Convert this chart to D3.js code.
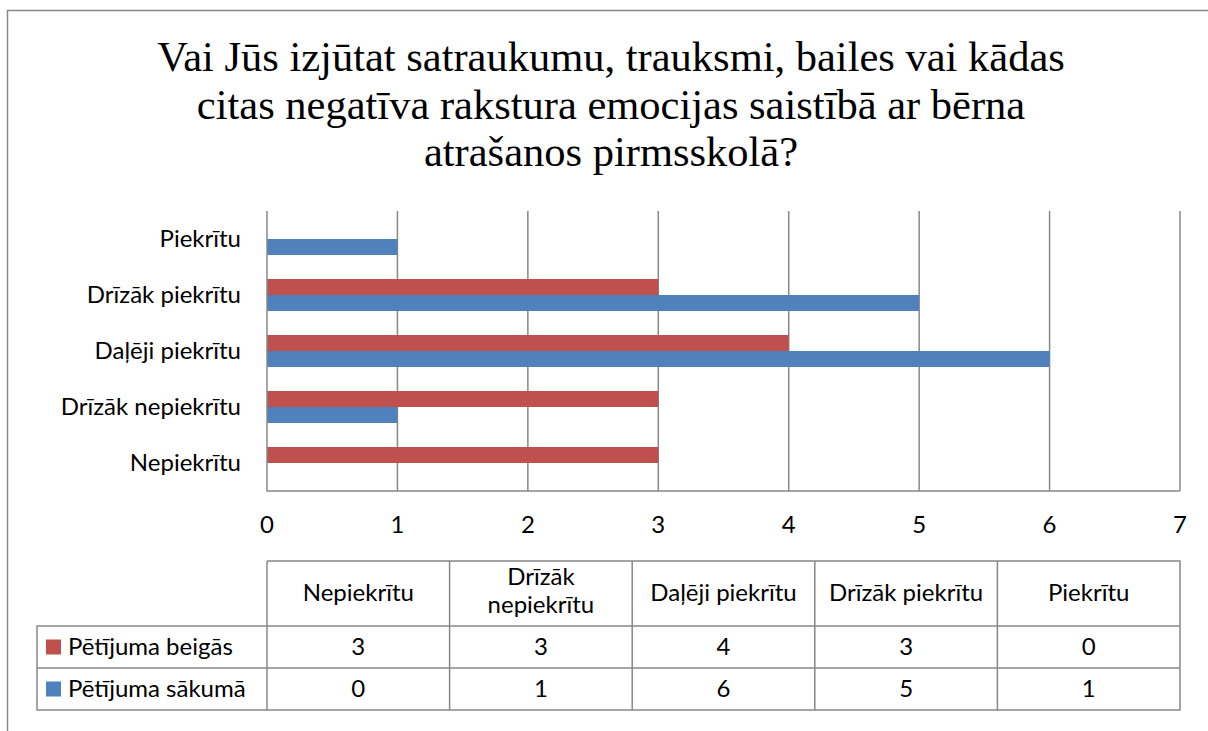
<!DOCTYPE html>
<html>
<head>
  <meta charset="utf-8">
  <title>Emocijas saistībā ar bērna atrašanos pirmsskolā</title>
  <script src="https://d3js.org/d3.v7.min.js"></script>
  <style>
    body { margin: 0; background: #fff; }
    svg { display: block; }
    .title { font-family: "Liberation Serif", "Times New Roman", serif; font-size: 42.5px; fill: #000; }
    .lbl { font-family: Lato, "Open Sans", sans-serif; font-size: 24px; fill: #000; }
  </style>
</head>
<body>
  <svg width="1208" height="731"></svg>

  <script>
    // data, bottom-to-top as in the table
    const categories = ["Nepiekrītu", "Drīzāk nepiekrītu", "Daļēji piekrītu", "Drīzāk piekrītu", "Piekrītu"];
    const seriesNames = ["Pētījuma beigās", "Pētījuma sākumā"];
    const seriesColors = ["#C0504D", "#4F81BD"];
    const beigas = [3, 3, 4, 3, 0];
    const sakuma = [0, 1, 6, 5, 1];
    const xTicks = [0, 1, 2, 3, 4, 5, 6, 7];
    const titleLines = [
      "Vai Jūs izjūtat satraukumu, trauksmi, bailes vai kādas",
      "citas negatīva rakstura emocijas saistībā ar bērna",
      "atrašanos pirmsskolā?"
    ];
    const values = [beigas, sakuma];

    const svg = d3.select("svg");
    const grid = "#888888";

    // outer chart border (cropped at right/bottom)
    svg.append("path").attr("d", "M7.5,731 V10.5 H1208")
      .attr("fill", "none").attr("stroke", grid).attr("stroke-width", 1.5);

    svg.selectAll(".title").data(titleLines).enter().append("text")
      .attr("class", "title").attr("text-anchor", "middle")
      .attr("x", 611).attr("y", (d, i) => 71 + i * 47.5).text(d => d);

    const x = d3.scaleLinear().domain([0, 7]).range([267, 1180]);
    const y = d3.scaleBand().domain(categories.slice().reverse()).range([211, 491]);
    const sub = d3.scaleBand().domain(seriesNames).range([0, y.bandwidth()]).paddingOuter(0.75);

    // gridlines
    svg.selectAll(".grid").data(xTicks.slice(1)).enter().append("line")
      .attr("x1", d => x(d)).attr("x2", d => x(d))
      .attr("y1", 211).attr("y2", 491)
      .attr("stroke", grid).attr("stroke-width", 1.5);

    // bars
    seriesNames.forEach((s, si) => {
      svg.selectAll(".bar" + si).data(categories).enter().append("rect")
        .attr("x", x(0))
        .attr("y", d => y(d) + sub(s))
        .attr("width", (d, i) => x(values[si][i]) - x(0))
        .attr("height", sub.bandwidth())
        .attr("fill", seriesColors[si]);
    });

    // axes lines
    svg.append("path").attr("d", `M${x(0)},211 V491 H${x(7)}`)
      .attr("fill", "none").attr("stroke", grid).attr("stroke-width", 1.5);

    // category labels
    svg.selectAll(".cat").data(categories).enter().append("text")
      .attr("class", "lbl").attr("text-anchor", "end")
      .attr("x", 241).attr("y", d => y(d) + y.bandwidth() / 2 + 7.5).text(d => d);

    // tick labels
    svg.selectAll(".tick").data(xTicks).enter().append("text")
      .attr("class", "lbl").attr("text-anchor", "middle")
      .attr("x", d => x(d)).attr("y", 533).text(d => d);

    // data table
    const colW = (x(7) - x(0)) / categories.length;
    const tTop = 561, tHead = 626, tRow = 42, tBottom = tHead + 2 * tRow, legX = 37;
    const tg = svg.append("g").attr("fill", "none").attr("stroke", grid).attr("stroke-width", 1.5);
    tg.append("path").attr("d", `M${x(0)},${tTop} H${x(7)} V${tBottom} H${legX} V${tHead} H${x(7)}`);
    tg.append("line").attr("x1", legX).attr("x2", x(7)).attr("y1", tHead + tRow).attr("y2", tHead + tRow);
    d3.range(categories.length).forEach(i => {
      tg.append("line").attr("x1", x(0) + i * colW).attr("x2", x(0) + i * colW)
        .attr("y1", tTop).attr("y2", tBottom);
    });

    // header cells, wrapped when too wide
    categories.forEach((c, i) => {
      const cx = x(0) + (i + 0.5) * colW;
      const t = svg.append("text").attr("class", "lbl").attr("text-anchor", "middle")
        .attr("x", cx).attr("y", (tTop + tHead) / 2 + 7.5).text(c);
      if (t.node().getComputedTextLength() > colW - 12) {
        const words = c.split(" ");
        words.forEach((w, wi) => {
          svg.append("text").attr("class", "lbl").attr("text-anchor", "middle").attr("x", cx)
            .attr("y", (tTop + tHead) / 2 + 5 + (wi - (words.length - 1) / 2) * 28)
            .text(w);
        });
        t.remove();
      }
    });

    // value rows with legend keys
    seriesNames.forEach((s, si) => {
      const rowMid = tHead + (si + 0.5) * tRow;
      svg.append("rect").attr("x", 46).attr("y", rowMid - 7.5).attr("width", 15).attr("height", 15)
        .attr("fill", seriesColors[si]);
      svg.append("text").attr("class", "lbl").attr("x", 68).attr("y", rowMid + 7.5).text(s);
      values[si].forEach((v, i) => {
        svg.append("text").attr("class", "lbl").attr("text-anchor", "middle")
          .attr("x", x(0) + (i + 0.5) * colW).attr("y", rowMid + 7.5).text(v);
      });
    });
  </script>
</body>
</html>
